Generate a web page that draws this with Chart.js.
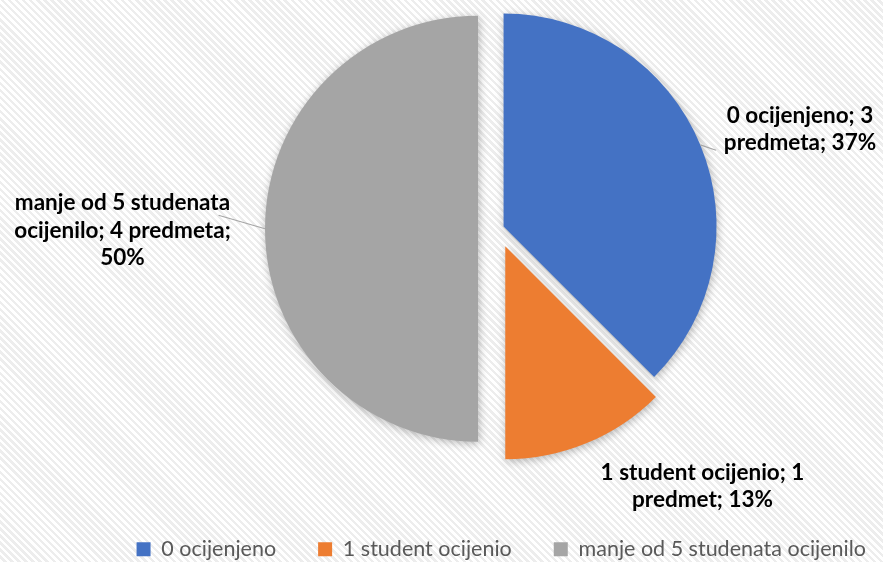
<!DOCTYPE html>
<html>
<head>
<meta charset="utf-8">
<script src="https://cdn.jsdelivr.net/npm/chart.js@4/dist/chart.umd.min.js"></script>
<style>
  html, body { margin: 0; padding: 0; }
  body {
    width: 883px; height: 562px; overflow: hidden;
    background: repeating-linear-gradient(45deg, #ffffff 0px, #ffffff 2.5px, #ededed 2.5px, #ededed 5px);
  }
  #wrap { position: relative; width: 883px; height: 562px; overflow: hidden; }
  #c { position: absolute; left: 0; top: -39px; }
</style>
</head>
<body>
<div id="wrap"><canvas id="c" width="908" height="609"></canvas></div>
<script>
// ---- data ----
const categories = ["0 ocijenjeno", "1 student ocijenio", "manje od 5 studenata ocijenilo"];
const values = [3, 1, 4];
const shownPercents = ["37%", "13%", "50%"];
const labelLines = [
  ["0 ocijenjeno; 3", "predmeta; 37%"],
  ["1 student ocijenio; 1", "predmet; 13%"],
  ["manje od 5 studenata", "ocijenilo; 4 predmeta;", "50%"]
];

// ---- style ----
const COLORS = ["#4472C4", "#ED7D31", "#A5A5A5"];
const EXPLODE = [6, 19, 20];              // px each slice is pulled out
const RADIUS = 213;
const LABEL_FONT = "bold 22.5px Lato";
const LABEL_LINE_H = 27.5;
const LABEL_POS = [[302, -99.5], [204.5, 257.5], [-375.5, 1.5]];   // label centre relative to pie centre
const LEADER_END = [[-84, 21], null, [96, -15]];                   // relative to label centre

const ArcProto = Chart.registry.getElement('arc').prototype;

const explodePlugin = {
  id: 'explode',
  afterUpdate(chart) {
    const meta = chart.getDatasetMeta(0);
    meta.data.forEach((arc, i) => {
      arc.draw = function (ctx) {
        const mid = (this.startAngle + this.endAngle) / 2;
        const d = EXPLODE[i];
        ctx.save();
        ctx.translate(Math.cos(mid) * d, Math.sin(mid) * d);
        ArcProto.draw.call(this, ctx);
        ctx.restore();
      };
    });
  },
  beforeDatasetsDraw(chart) {
    const ctx = chart.ctx;
    ctx.save();
    ctx.shadowColor = 'rgba(0,0,0,0.28)';
    ctx.shadowBlur = 9;
    ctx.shadowOffsetX = 1;
    ctx.shadowOffsetY = 2;
  },
  afterDatasetsDraw(chart) {
    const ctx = chart.ctx;
    ctx.restore();
    const meta = chart.getDatasetMeta(0);
    meta.data.forEach((arc, i) => {
      const mid = (arc.startAngle + arc.endAngle) / 2;
      const cx = arc.x, cy = arc.y;
      const lx = cx + LABEL_POS[i][0], ly = cy + LABEL_POS[i][1];
      const lines = labelLines[i];
      if (LEADER_END[i]) {
        const ex = cx + Math.cos(mid) * (EXPLODE[i] + arc.outerRadius);
        const ey = cy + Math.sin(mid) * (EXPLODE[i] + arc.outerRadius);
        ctx.save();
        ctx.strokeStyle = '#a6a6a6';
        ctx.lineWidth = 1.2;
        ctx.beginPath();
        ctx.moveTo(ex, ey);
        ctx.lineTo(lx + LEADER_END[i][0], ly + LEADER_END[i][1]);
        ctx.stroke();
        ctx.restore();
      }
      ctx.save();
      ctx.font = LABEL_FONT;
      ctx.fillStyle = '#000000';
      ctx.textAlign = 'center';
      ctx.textBaseline = 'middle';
      const top = ly - (lines.length - 1) * LABEL_LINE_H / 2;
      lines.forEach((t, k) => ctx.fillText(t, lx, top + k * LABEL_LINE_H));
      ctx.restore();
    });
  }
};

new Chart(document.getElementById('c'), {
  type: 'pie',
  data: {
    labels: categories,
    datasets: [{
      data: values,
      backgroundColor: COLORS,
      borderWidth: 0
    }]
  },
  options: {
    responsive: false,
    animation: false,
    radius: RADIUS,
    layout: { padding: { left: 88, right: 0, top: 0, bottom: 0 } },
    plugins: {
      legend: {
        position: 'bottom',
        align: 'end',
        labels: {
          boxWidth: 14,
          boxHeight: 14,
          padding: 42,
          color: '#595959',
          font: { family: 'Lato', size: 21.5 }
        }
      },
      tooltip: { enabled: false }
    }
  },
  plugins: [explodePlugin]
});
</script>
</body>
</html>
